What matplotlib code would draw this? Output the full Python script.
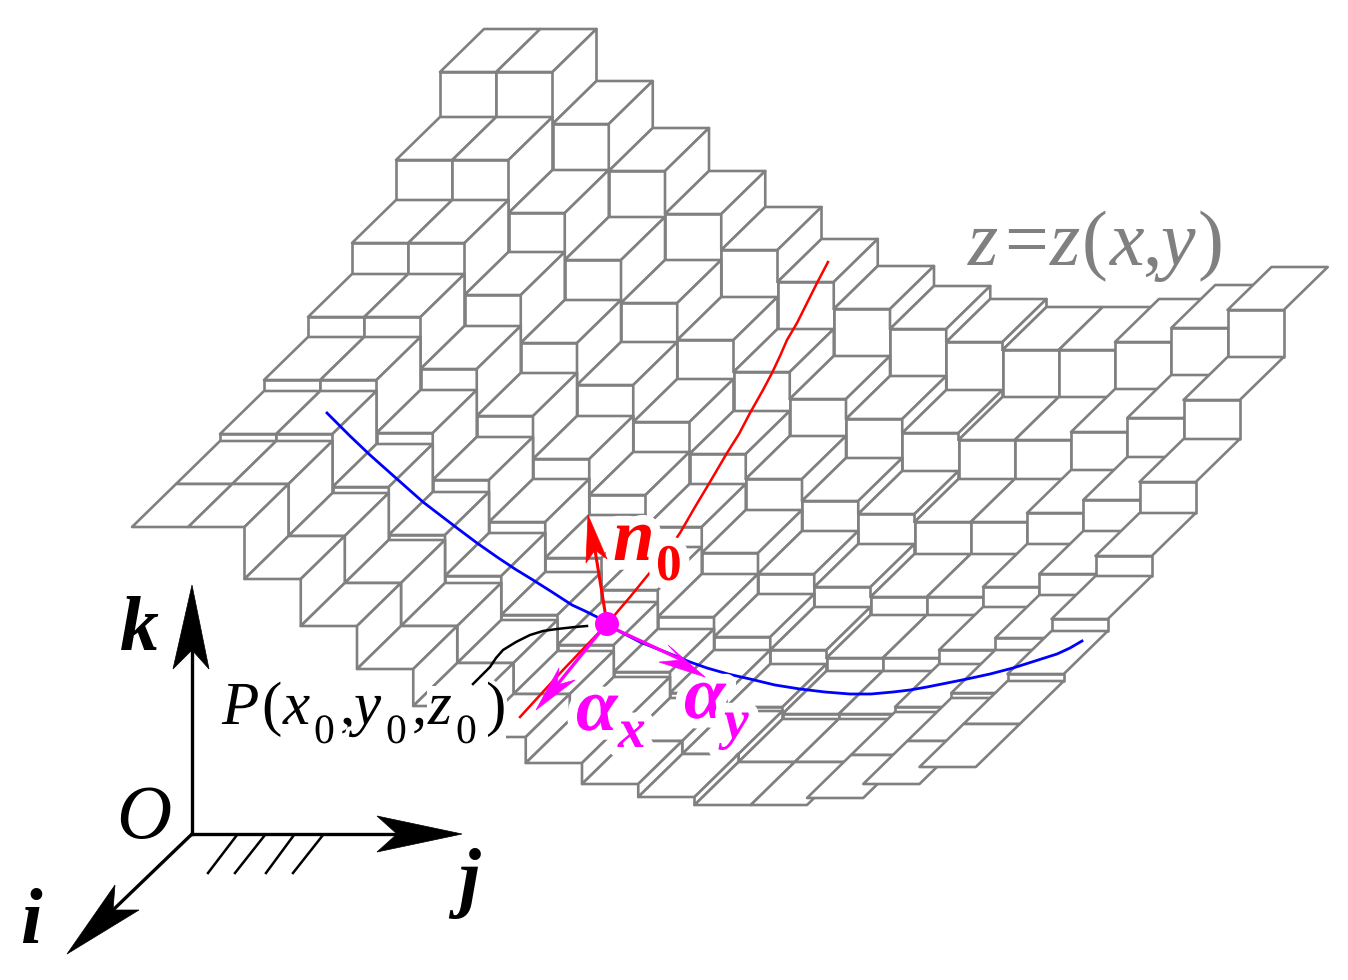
# Stepped surface z=z(x,y) with the normal and tangent vectors at a point P

import matplotlib
matplotlib.use("Agg")
import matplotlib.pyplot as plt
import matplotlib.patheffects as pe
from matplotlib.patches import Polygon, Circle, Rectangle

# screen y of the front edge of each top face, one row per i, one value per j
row0 = [72, 72, 124, 171, 214, 250, 282, 309, 329, 342, 350, 350, 342, 328, 310]
row1 = [160, 160, 213, 260, 303, 340, 372, 399, 419, 433, 440, 440, 432, 418, 400]
row2 = [243, 243, 295, 343, 385, 422, 454, 479, 501, 514, 522, 522, 513, 500, 482]
row3 = [317, 317, 369, 416, 459, 495, 527, 553, 574, 587, 597, 597, 587, 574, 556]
row4 = [380, 380, 433, 480, 522, 558, 590, 617, 637, 650, 658, 658, 650, 638, 619]
row5 = [434, 434, 487, 535, 576, 615, 645, 672, 693, 707, 714, 714, 707, 693, 674]
row6 = [484, 484, 536, 583, 626, 663, 694, 720, 741, 754, 762, 762, 755, 741, 724]
row7 = [527, 527, 579, 626, 669, 706, 737, 763, 784, 797, 805, 805, 798, 784, 767]
rows = [row0, row1, row2, row3, row4, row5, row6, row7]

blue_x = [327, 350, 370, 397, 423, 440, 457, 477, 497, 515, 533, 552, 572, 585, 597, 617, 640, 673, 690, 707,
          728, 750, 775, 800, 825, 850, 871, 893, 910, 927, 947, 967, 990, 1013, 1035, 1057, 1070, 1082]
blue_y = [413, 436, 455, 479, 502, 515, 528, 543, 557, 569, 580, 592, 605, 611, 617, 630, 642, 655, 662, 668,
          674, 679, 685, 689, 692, 694, 694, 692, 690, 687, 683, 679, 674, 668, 661, 654, 648, 641]
red_x = [828, 817, 797, 787, 780, 772, 763, 750, 739, 727, 707, 695, 680, 668, 652, 630, 607, 563, 520]
red_y = [262, 283, 323, 340, 356, 373, 390, 413, 434, 453, 487, 507, 533, 550, 570, 597, 624, 670, 717]
leader_x = [587, 575, 557, 543, 530, 516, 503, 496, 490, 481, 473]
leader_y = [626, 627, 629, 631, 635, 642, 650, 658, 667, 676, 684]

GRAY = "#808080"
MAGENTA = "#ff00ff"
SERIF = "Liberation Serif"

X0, STEP_J, STEP_I, DEPTH = 440, 56.25, 44, 43

fig = plt.figure(figsize=(13.48, 9.8), dpi=100)
ax = fig.add_axes([0, 0, 1, 1])
ax.set_xlim(0, 1348)
ax.set_ylim(980, 0)
ax.axis("off")


def face(points):
    ax.add_patch(Polygon(points, closed=True, facecolor="white", edgecolor=GRAY,
                         linewidth=1.9, joinstyle="round", zorder=1))


# back to front, left to right, so nearer cells hide the ones behind
for i, row in enumerate(rows):
    for j, y in enumerate(row):
        x = X0 + STEP_J * j - STEP_I * i
        x2 = x + STEP_J
        face([(x, y), (x2, y), (x2 + STEP_I, y - DEPTH), (x + STEP_I, y - DEPTH)])
        if i + 1 < len(rows):
            below = rows[i + 1][j] - DEPTH
            if below > y:
                face([(x, y), (x2, y), (x2, below), (x, below)])
        if j + 1 < len(row) and row[j + 1] > y:
            drop = row[j + 1] - y
            face([(x2, y), (x2 + STEP_I, y - DEPTH), (x2 + STEP_I, y - DEPTH + drop), (x2, y + drop)])

ax.plot(red_x, red_y, color="red", linewidth=1.8, zorder=2)
ax.plot(blue_x, blue_y, color="blue", linewidth=2.0, zorder=3)

# blank patch the mesh has behind the end of the P label
ax.add_patch(Rectangle((427, 686), 79, 66, facecolor="white", edgecolor="none", zorder=4))


def label(x, y, s, size, color="black", style="italic", weight="normal", halo=0):
    effects = [pe.withStroke(linewidth=halo, foreground="white")] if halo else None
    ax.text(x, y, s, family=SERIF, fontsize=size, color=color, style=style, weight=weight,
            ha="left", va="baseline", path_effects=effects, zorder=5)


# z=z(x,y)
for x, s in [(968, "z"), (1004, "="), (1050, "z"), (1082, "("), (1110, "x"), (1142, ","), (1160, "y"), (1197, ")")]:
    label(x, 265, s, 56, color=GRAY, style="normal" if s in "=()," else "italic")

# P(x0,y0,z0)
for x, s in [(222, "P"), (262, "("), (283, "x"), (340, ","), (354, "y"), (412, ","), (428, "z"), (486, ")")]:
    label(x, 724, s, 44, style="normal" if s in "()," else "italic", halo=6)
for x in [314, 386, 456]:
    label(x, 743, "0", 30, style="normal", halo=6)

label(613, 560, "n", 54, color="red", weight="bold", halo=14)
label(656, 580, "0", 37, color="red", style="normal", weight="bold", halo=14)
label(576, 730, "α", 54, color=MAGENTA, weight="bold", halo=14)
label(618, 747, "x", 40, color=MAGENTA, weight="bold", halo=14)
label(684, 718, "α", 54, color=MAGENTA, weight="bold", halo=14)
label(724, 738, "y", 40, color=MAGENTA, weight="bold", halo=14)

label(120, 650, "k", 56, weight="bold")
label(116, 838, "O", 55)
label(20, 942, "i", 56, weight="bold")
label(458, 902, "j", 56, weight="bold")

ax.plot(leader_x, leader_y, color="black", linewidth=1.8, zorder=6)


def arrow(start, tip, wing1, notch, wing2, color, width):
    ax.plot([start[0], notch[0]], [start[1], notch[1]], color=color, linewidth=width, zorder=6)
    ax.add_patch(Polygon([tip, wing1, notch, wing2], closed=True, facecolor=color,
                         edgecolor=color, linewidth=0.5, zorder=6))


arrow((607, 624), (588, 515), (586, 563), (595, 550), (607, 559), "red", 2.2)
arrow((600, 632), (536, 710), (559, 668), (557, 685), (575, 680), MAGENTA, 2.4)
arrow((617, 630), (705, 677), (668, 645), (682, 660), (659, 662), MAGENTA, 2.4)
ax.add_patch(Circle((607, 624), 12, facecolor=MAGENTA, edgecolor="none", zorder=7))

# base frame
arrow((192, 834), (192, 585), (173, 669), (192, 650), (209, 669), "black", 2.4)
arrow((192, 834), (462, 834), (377, 816), (397, 834), (377, 852), "black", 2.4)
arrow((192, 834), (67, 954), (115, 885), (113, 910), (139, 910), "black", 2.4)

hatch_top = [237, 265, 294, 323]
hatch_bottom = [208, 235, 266, 293]
for top, bottom in zip(hatch_top, hatch_bottom):
    ax.plot([top, bottom], [835, 873], color="black", linewidth=1.8, zorder=6)

plt.savefig("out.png", dpi=100)
